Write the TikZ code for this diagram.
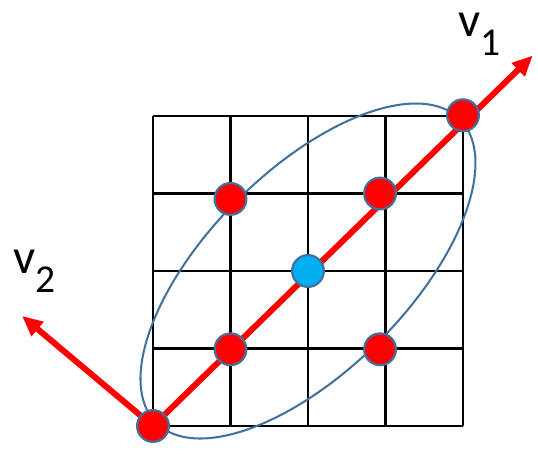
\documentclass[tikz,border=0pt]{standalone}
\usepackage{fontspec}
\setmainfont{Carlito}
\usetikzlibrary{arrows.meta}
\definecolor{red}{RGB}{255,0,0}
\definecolor{cyan}{RGB}{0,176,240}
\definecolor{steel}{RGB}{65,113,156}

\begin{document}
\begin{tikzpicture}[
    dot/.style={circle, draw=steel, line width=0.8pt, minimum size=0.41cm, inner sep=0pt},
    vec/.style={-{Triangle[length=7.5pt, width=6.5pt]}, line width=2.2pt, red},
    lbl/.style={anchor=base west, inner sep=0pt, font=\fontsize{18}{18}\selectfont},
    x=1cm, y=1cm
]
    \useasboundingbox (-1.974,-0.361) rectangle (4.968,5.497);

    % Grid
    \draw[line width=0.75pt] (0,0) grid (4,4);

    % Ellipse
    \coordinate (c) at (2,2);
    \draw[steel, line width=0.75pt, rotate around={45:(c)}] (c) ellipse (2.77 and 1.29);

    % Vectors
    \coordinate (o) at (0,0);
    \coordinate (v1tip) at (4.9,4.78);
    \coordinate (v2tip) at (-1.69,1.42);
    \draw[vec] (o) -- (v1tip);
    \draw[vec] (o) -- (v2tip);

    % Points
    \node[dot, fill=red] (p0) at (o) {};
    \node[dot, fill=red] (p1) at (1,0.99) {};
    \node[dot, fill=red] (p2) at (2.93,0.99) {};
    \node[dot, fill=red] (p3) at (1,2.93) {};
    \node[dot, fill=red] (p4) at (2.93,3.0) {};
    \node[dot, fill=red] (p5) at (4,4.01) {};
    \node[dot, fill=cyan] (m) at (c) {};

    % Labels
    \node[lbl] (v1) at (3.935,5.03) {v\raisebox{-7pt}{\fontsize{14.5}{14.5}\selectfont 1}};
    \node[lbl] (v2) at (-1.806,1.974) {v\raisebox{-7pt}{\fontsize{14.5}{14.5}\selectfont 2}};
\end{tikzpicture}
\end{document}
